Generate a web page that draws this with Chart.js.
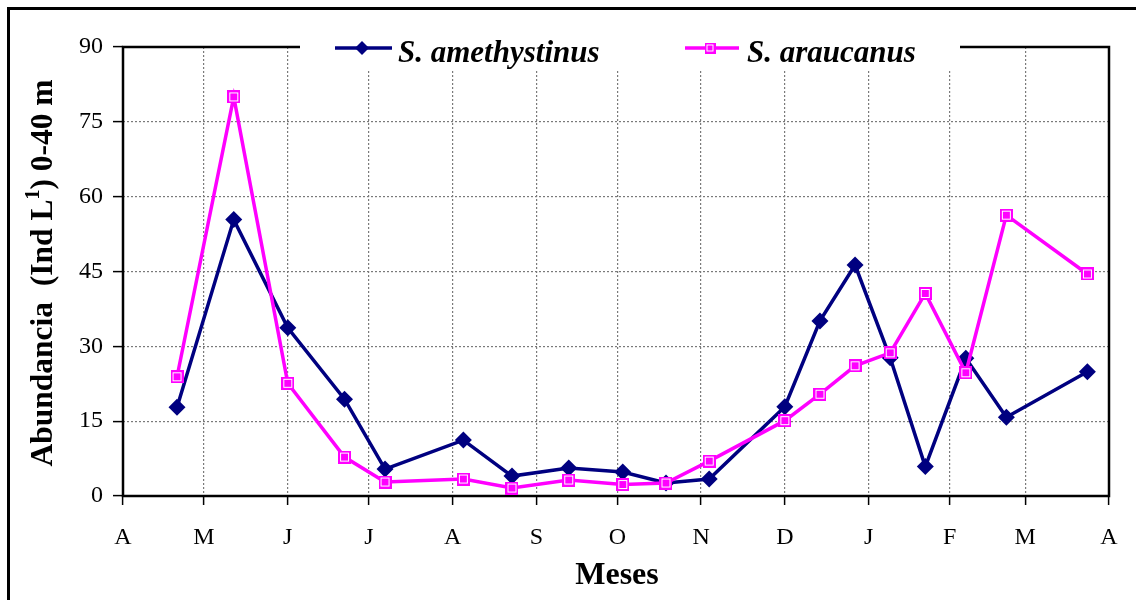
<!DOCTYPE html>
<html>
<head>
<meta charset="utf-8">
<script src="https://cdn.jsdelivr.net/npm/chart.js@4/dist/chart.umd.min.js"></script>
<style>
  html, body { margin: 0; padding: 0; background: #fff; }
  #wrap { width: 1136px; height: 600px; position: relative; overflow: hidden; }
</style>
</head>
<body>
<div id="wrap"><canvas id="c" width="1136" height="600"></canvas></div>
<script>
// Months of the sampling year (April to April) and the day each one starts on
const monthLabels = ['A', 'M', 'J', 'J', 'A', 'S', 'O', 'N', 'D', 'J', 'F', 'M', 'A'];
const monthStartDays = [0, 30, 61, 91, 122, 153, 183, 214, 245, 276, 306, 334, 365];

// Sampling dates, counted in days from 1 April
const samplingDays = [20, 41, 61, 82, 97, 126, 144, 165, 185, 201, 217, 245, 258, 271, 284, 297, 312, 327, 357];

// Abundance (Ind L-1), 0-40 m
const amethystinus = [17.8, 55.4, 33.7, 19.4, 5.4, 11.2, 4.0, 5.6, 4.8, 2.6, 3.4, 17.9, 35.1, 46.3, 27.7, 5.9, 27.6, 15.8, 24.9];
const araucanus    = [23.9, 80.0, 22.6, 7.8, 2.8, 3.4, 1.6, 3.2, 2.3, 2.6, 7.0, 15.1, 20.4, 26.1, 28.7, 40.6, 24.7, 56.3, 44.5];

const yTicks = [0, 15, 30, 45, 60, 75, 90];

const seriesNames = ['S. amethystinus', 'S. araucanus'];
const NAVY = '#000080';
const MAGENTA = '#FF00FF';
const SERIF = '"Liberation Serif", "Times New Roman", Times, serif';

// Square marker with a thin white inner outline
function squareMarker(size, color) {
  const c = document.createElement('canvas');
  c.width = size; c.height = size;
  const g = c.getContext('2d');
  g.fillStyle = color;
  g.fillRect(0, 0, size, size);
  g.strokeStyle = '#fff';
  g.lineWidth = 1;
  g.strokeRect(2.5, 2.5, size - 5, size - 5);
  return c;
}

const pointsOf = (vals) => samplingDays.map((d, i) => ({ x: d, y: vals[i] }));

// Frame around the plot, outer border, legend and axis titles
const decor = {
  id: 'decor',
  beforeDatasetsDraw(chart) {
    const { ctx, chartArea: a } = chart;
    ctx.save();
    ctx.strokeStyle = '#000';
    ctx.lineWidth = 2.5;
    ctx.strokeRect(a.left, a.top, a.right - a.left, a.bottom - a.top);
    ctx.restore();
  },
  afterDraw(chart) {
    const { ctx } = chart;
    ctx.save();

    // outer border
    ctx.strokeStyle = '#000';
    ctx.lineWidth = 3;
    ctx.strokeRect(8.5, 8.5, 1200, 700);

    // legend box (white, covers the top edge of the frame)
    ctx.fillStyle = '#fff';
    ctx.fillRect(300, 20, 660, 51);

    const ly = 48;
    ctx.lineWidth = 3.5;
    // series 1
    ctx.strokeStyle = NAVY;
    ctx.beginPath(); ctx.moveTo(335, ly); ctx.lineTo(392, ly); ctx.stroke();
    ctx.fillStyle = NAVY;
    ctx.beginPath();
    ctx.moveTo(362, ly - 7); ctx.lineTo(369, ly); ctx.lineTo(362, ly + 7); ctx.lineTo(355, ly);
    ctx.closePath(); ctx.fill();
    // series 2
    ctx.strokeStyle = MAGENTA;
    ctx.beginPath(); ctx.moveTo(685, ly); ctx.lineTo(739, ly); ctx.stroke();
    const sq = squareMarker(11, MAGENTA);
    ctx.drawImage(sq, 710 - 5.5, ly - 5.5);

    ctx.fillStyle = '#000';
    ctx.font = 'italic bold 31px ' + SERIF;
    ctx.textBaseline = 'alphabetic';
    ctx.textAlign = 'left';
    ctx.fillText(seriesNames[0], 398, 62);
    ctx.fillText(seriesNames[1], 747, 62);

    // x axis title
    ctx.font = 'bold 32px ' + SERIF;
    ctx.textAlign = 'center';
    ctx.fillText('Meses', 617, 584);

    // y axis title with superscript
    const mainFont = 'bold 31.5px ' + SERIF;
    const supFont = 'bold 20px ' + SERIF;
    const p1 = 'Abundancia  (Ind L', sup = '1', p2 = ') 0-40 m';
    ctx.font = mainFont; const w1 = ctx.measureText(p1).width, w3 = ctx.measureText(p2).width;
    ctx.font = supFont; const w2 = ctx.measureText(sup).width;
    const total = w1 + w2 + w3;
    ctx.translate(52, 273);
    ctx.rotate(-Math.PI / 2);
    ctx.textAlign = 'left';
    let x = -total / 2;
    ctx.font = mainFont; ctx.fillText(p1, x, 0); x += w1;
    ctx.font = supFont; ctx.fillText(sup, x, -13); x += w2;
    ctx.font = mainFont; ctx.fillText(p2, x, 0);

    ctx.restore();
  }
};

new Chart(document.getElementById('c'), {
  type: 'line',
  data: {
    datasets: [
      {
        label: seriesNames[0],
        data: pointsOf(amethystinus),
        borderColor: NAVY,
        backgroundColor: NAVY,
        borderWidth: 3.5,
        pointStyle: 'rectRot',
        pointRadius: 8.5,
        pointBorderWidth: 0,
        pointBackgroundColor: NAVY,
        tension: 0,
        order: 1
      },
      {
        label: seriesNames[1],
        data: pointsOf(araucanus),
        borderColor: MAGENTA,
        backgroundColor: MAGENTA,
        borderWidth: 3.5,
        pointStyle: squareMarker(13, MAGENTA),
        pointRadius: 6.5,
        tension: 0,
        order: 0
      }
    ]
  },
  options: {
    responsive: false,
    animation: false,
    devicePixelRatio: 1,
    layout: { padding: { left: 0, top: 47, right: 27, bottom: 0 } },
    plugins: { legend: { display: false }, tooltip: { enabled: false } },
    scales: {
      x: {
        type: 'linear',
        min: 0,
        max: 365,
        afterFit(scale) { scale.height = 104; },
        afterBuildTicks(scale) { scale.ticks = monthStartDays.map(v => ({ value: v })); },
        ticks: {
          autoSkip: false,
          maxRotation: 0,
          padding: 18,
          color: '#000',
          font: { family: SERIF, size: 24 },
          callback: (v, i) => monthLabels[i]
        },
        grid: {
          color: '#7a7a7a',
          lineWidth: 1.2,
          tickColor: '#000',
          tickLength: 9,
          tickWidth: 1.5,
          tickBorderDash: []
        },
        border: { display: false, dash: [2, 2] }
      },
      y: {
        min: 0,
        max: 90,
        afterFit(scale) { scale.width = 123; },
        afterBuildTicks(scale) { scale.ticks = yTicks.map(v => ({ value: v })); },
        ticks: {
          padding: 10,
          color: '#000',
          font: { family: SERIF, size: 24 }
        },
        grid: {
          color: '#7a7a7a',
          lineWidth: 1.2,
          tickColor: '#000',
          tickLength: 10,
          tickWidth: 1.5,
          tickBorderDash: []
        },
        border: { display: false, dash: [2, 2] }
      }
    }
  },
  plugins: [decor]
});
</script>
</body>
</html>
